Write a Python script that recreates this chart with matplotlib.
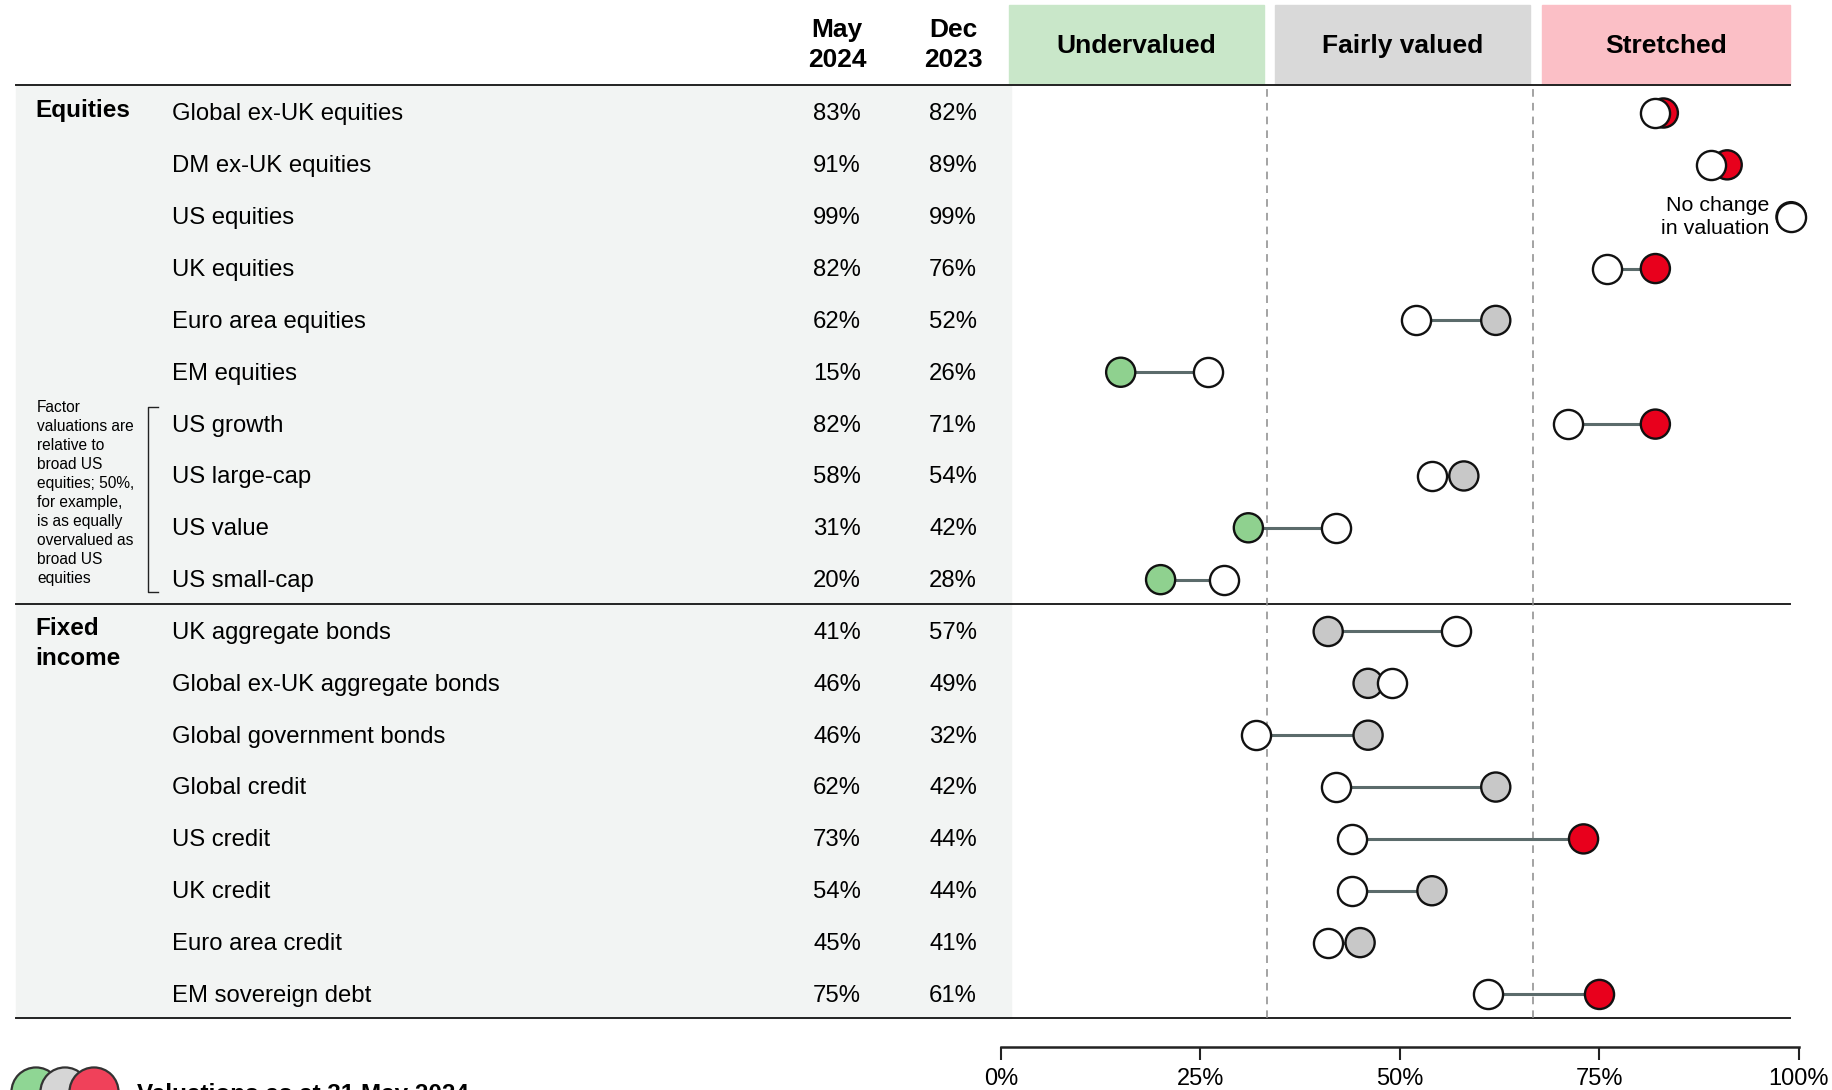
import numpy as np
import matplotlib
matplotlib.use("Agg")
import matplotlib.pyplot as plt
from matplotlib.patches import Rectangle

plt.rcParams["font.family"] = ["Liberation Sans", "DejaVu Sans"]

# ---------------------------------------------------------------- data
labels = ["Global ex-UK equities", "DM ex-UK equities", "US equities", "UK equities",
          "Euro area equities", "EM equities", "US growth", "US large-cap", "US value",
          "US small-cap", "UK aggregate bonds", "Global ex-UK aggregate bonds",
          "Global government bonds", "Global credit", "US credit", "UK credit",
          "Euro area credit", "EM sovereign debt"]
may_2024 = [83, 91, 99, 82, 62, 15, 82, 58, 31, 20, 41, 46, 46, 62, 73, 54, 45, 75]
dec_2023 = [82, 89, 99, 76, 52, 26, 71, 54, 42, 28, 57, 49, 32, 42, 44, 44, 41, 61]
zones = ["Undervalued", "Fairly valued", "Stretched"]
zone_edges = [0, 100 / 3, 200 / 3, 100]
ticks = [0, 25, 50, 75, 100]

ZONE_FILL = ["#c9e7c9", "#d9d9d9", "#fbbfc6"]
DOT_FILL = ["#8fd18f", "#c8c8c8", "#e8001c"]
LEG_FILL = ["#8fd694", "#d6d6d6", "#f0415a"]
LINE_COL = "#5b6b6b"
BG_COL = "#f2f4f3"

W, H = 1833, 1090
TOP, ROWH = 85, 51.85
n = len(labels)
AX_L, AX_R = 1001, 1799


def fx(px):
    return px / W


def fy(py):
    return 1 - py / H


fig = plt.figure(figsize=(W / 100, H / 100), dpi=100)

# ---------------------------------------------------------------- table layer (pixel coords)
bg = fig.add_axes([0, 0, 1, 1])
bg.set_xlim(0, W)
bg.set_ylim(H, 0)
bg.axis("off")

bottom = TOP + n * ROWH
bg.add_patch(Rectangle((16, TOP), 1011 - 16, bottom - TOP, color=BG_COL, zorder=0))
for yy in [TOP, TOP + 10 * ROWH, bottom]:
    bg.plot([16, 1790], [yy, yy], color="#222222", lw=1.4, zorder=2)

row_y = [TOP + (i + 0.5) * ROWH for i in range(n)]
for i, lab in enumerate(labels):
    yt = row_y[i] + 3.5
    bg.text(172, yt, lab, fontsize=17.2, va="center", ha="left")
    bg.text(837, yt, f"{may_2024[i]}%", fontsize=17.2, va="center", ha="center")
    bg.text(953, yt, f"{dec_2023[i]}%", fontsize=17.2, va="center", ha="center")

bg.text(837, 45, "May\n2024", fontsize=19, fontweight="bold", ha="center", va="center",
        linespacing=1.35)
bg.text(953, 45, "Dec\n2023", fontsize=19, fontweight="bold", ha="center", va="center",
        linespacing=1.35)
bg.text(35, row_y[0], "Equities", fontsize=17.5, fontweight="bold", va="center")
bg.text(35, 617, "Fixed\nincome", fontsize=17.5, fontweight="bold", va="top", linespacing=1.4)

bg.text(37, 400, "Factor\nvaluations are\nrelative to\nbroad US\nequities; 50%,\nfor example,\n"
        "is as equally\novervalued as\nbroad US\nequities",
        fontsize=11.2, va="top", ha="left", linespacing=1.33)
bg.plot([158, 148, 148, 158], [407, 407, 592, 592], color="#222222", lw=1.0)

# zone header boxes
box_x = [(1009, 1264), (1275, 1530), (1542, 1790)]
for (x0, x1), name, col in zip(box_x, zones, ZONE_FILL):
    bg.add_patch(Rectangle((x0, 5), x1 - x0, 79, color=col, zorder=1))
    bg.text((x0 + x1) / 2, 46, name, fontsize=19, fontweight="bold", ha="center", va="center")

bg.text(1769, 217, "No change\nin valuation", fontsize=15.4, ha="right", va="center",
        linespacing=1.3)

# ---------------------------------------------------------------- dots
ax = fig.add_axes([fx(AX_L), fy(bottom), fx(AX_R) - fx(AX_L), (bottom - TOP) / H])
ax.set_xlim(0, 100)
ax.set_ylim(n - 0.5, -0.5)
ax.axis("off")
ax.patch.set_alpha(0)
for e in zone_edges[1:3]:
    ax.axvline(e, color="#8a8a8a", lw=1.1, ls=(0, (5, 4)), zorder=1)

ypos = np.arange(n) + 0.04
for i in range(n):
    ax.plot([dec_2023[i], may_2024[i]], [ypos[i], ypos[i]], color=LINE_COL, lw=2.2, zorder=2)
cols = [DOT_FILL[0] if v < zone_edges[1] else DOT_FILL[1] if v < zone_edges[2] else DOT_FILL[2]
        for v in may_2024]
ax.scatter(may_2024, ypos, s=440, c=cols, edgecolors="#111111", linewidths=1.7, zorder=3,
           clip_on=False)
ax.scatter(dec_2023, ypos, s=440, c="white", edgecolors="#111111", linewidths=1.7, zorder=4,
           clip_on=False)

# ---------------------------------------------------------------- bottom axis
axx = fig.add_axes([fx(AX_L), fy(1047), fx(AX_R) - fx(AX_L), 0.0001])
axx.set_xlim(0, 100)
axx.set_yticks([])
for s in ["top", "left", "right"]:
    axx.spines[s].set_visible(False)
axx.spines["bottom"].set_linewidth(1.8)
axx.spines["bottom"].set_color("#222222")
axx.set_xticks(ticks)
axx.set_xticklabels([f"{t}%" for t in ticks], fontsize=17)
axx.tick_params(axis="x", direction="out", length=9, width=1.5, pad=6, color="#222222")

# ---------------------------------------------------------------- legend (cut at bottom)
leg = fig.add_axes([0, 0, 1, 1], zorder=5)
leg.set_xlim(0, W)
leg.set_ylim(H, 0)
leg.axis("off")
leg.patch.set_alpha(0)
leg_x = [36, 65, 94]
leg.scatter(leg_x, [1092] * 3, s=1250, c=LEG_FILL, edgecolors="#333333", linewidths=1.6,
            clip_on=True)
leg.text(137, 1083, "Valuations as at 31 May 2024", fontsize=17.5, fontweight="bold", va="top")

fig.savefig("out.png", dpi=100)
